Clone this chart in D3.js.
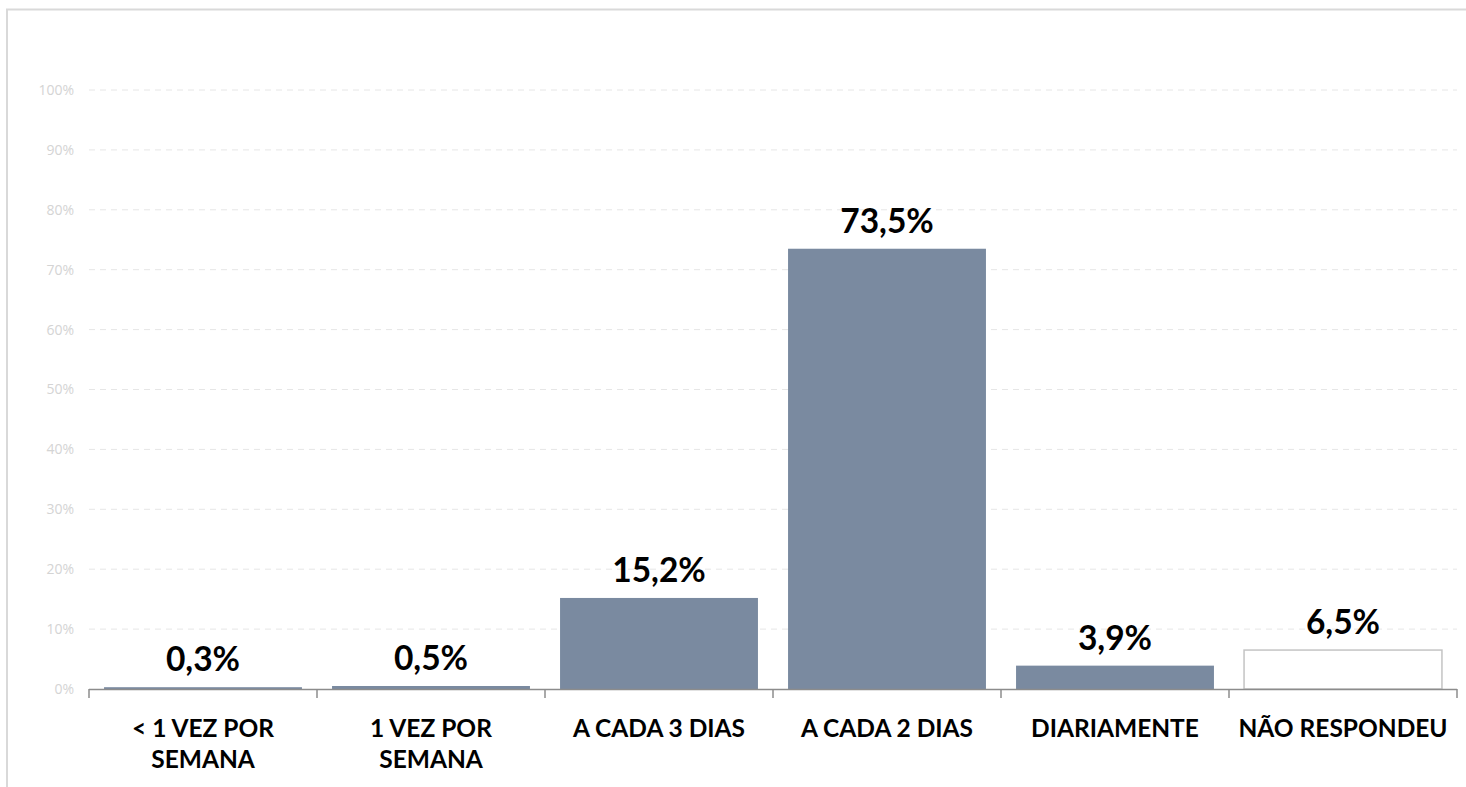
<!DOCTYPE html>
<html>
<head>
<meta charset="utf-8">
<script src="https://cdn.jsdelivr.net/npm/d3@7"></script>
<style>
  html, body { margin: 0; padding: 0; background: #fff; }
  svg { display: block; }
</style>
</head>
<body>
<svg id="chart" width="1466" height="787"></svg>
<script>
// Frequência de respostas por categoria (%)
const categories = [
  ["< 1 VEZ POR", "SEMANA"],
  ["1 VEZ POR", "SEMANA"],
  ["A CADA 3 DIAS"],
  ["A CADA 2 DIAS"],
  ["DIARIAMENTE"],
  ["NÃO RESPONDEU"]
];
const values = [0.3, 0.5, 15.2, 73.5, 3.9, 6.5];
const valueLabels = ["0,3%", "0,5%", "15,2%", "73,5%", "3,9%", "6,5%"];
const yTicks = [0, 10, 20, 30, 40, 50, 60, 70, 80, 90, 100];
const hollow = [false, false, false, false, false, true];

const svg = d3.select("#chart");
const W = 1466, H = 787;
const margin = { left: 89, right: 9, top: 90, bottom: 98 };

// frame around the chart area
svg.append("rect")
  .attr("x", 7).attr("y", 9.5)
  .attr("width", W).attr("height", H)
  .attr("fill", "none").attr("stroke", "#d9d9d9").attr("stroke-width", 2);

const x = d3.scaleBand()
  .domain(d3.range(categories.length))
  .range([margin.left, W - margin.right])
  .paddingInner(0.132).paddingOuter(0.066);

const y = d3.scaleLinear()
  .domain([0, 100])
  .range([H - margin.bottom, margin.top]);

// dashed gridlines
svg.append("g")
  .selectAll("line")
  .data(yTicks.filter(d => d > 0))
  .join("line")
  .attr("x1", margin.left).attr("x2", W - margin.right)
  .attr("y1", d => y(d)).attr("y2", d => y(d))
  .attr("stroke", "#e6e6e6").attr("stroke-width", 1)
  .attr("stroke-dasharray", "6,5");

// y axis labels
const yAxis = d3.axisLeft(y).tickValues(yTicks).tickFormat(d => d + "%").tickSize(0).tickPadding(15);
const gy = svg.append("g").attr("transform", `translate(${margin.left},0)`).call(yAxis);
gy.select(".domain").remove();
gy.selectAll("text")
  .attr("fill", "#d4d4d4")
  .style("font-family", "'Open Sans', sans-serif")
  .style("font-size", "14px");

// bars
svg.append("g")
  .selectAll("rect")
  .data(values)
  .join("rect")
  .attr("x", (d, i) => x(i))
  .attr("width", x.bandwidth())
  .attr("y", d => y(d))
  .attr("height", d => y(0) - y(d))
  .attr("fill", (d, i) => hollow[i] ? "#ffffff" : "#7a8aa0")
  .attr("stroke", (d, i) => hollow[i] ? "#c4c4c4" : "none")
  .attr("stroke-width", 1.5);

// x axis with category boundary ticks
const bounds = d3.range(categories.length + 1).map(i => margin.left + i * (W - margin.right - margin.left) / categories.length);
const gx = svg.append("g");
gx.append("line")
  .attr("x1", margin.left).attr("x2", W - margin.right)
  .attr("y1", y(0) + 0.5).attr("y2", y(0) + 0.5)
  .attr("stroke", "#8c8c8c").attr("stroke-width", 1.5);
gx.selectAll("line.tick")
  .data(bounds)
  .join("line")
  .attr("class", "tick")
  .attr("x1", d => d).attr("x2", d => d)
  .attr("y1", y(0)).attr("y2", y(0) + 9)
  .attr("stroke", "#8c8c8c").attr("stroke-width", 1.5);

// category labels
const catG = svg.append("g")
  .selectAll("text")
  .data(categories)
  .join("text")
  .attr("x", (d, i) => x(i) + x.bandwidth() / 2)
  .attr("y", 737)
  .attr("text-anchor", "middle")
  .attr("fill", "#000")
  .style("font-family", "Lato, sans-serif")
  .style("font-weight", "bold")
  .style("font-size", "24.5px");
catG.selectAll("tspan")
  .data(d => d)
  .join("tspan")
  .attr("x", function() { return d3.select(this.parentNode).attr("x"); })
  .attr("dy", (d, i) => i === 0 ? 0 : 31)
  .text(d => d);

// value labels
svg.append("g")
  .selectAll("text")
  .data(values)
  .join("text")
  .attr("x", (d, i) => x(i) + x.bandwidth() / 2)
  .attr("y", d => y(d) - 16)
  .attr("text-anchor", "middle")
  .attr("fill", "#000")
  .style("font-family", "Lato, sans-serif")
  .style("font-weight", "bold")
  .style("font-size", "33.5px")
  .text((d, i) => valueLabels[i]);
</script>
</body>
</html>
